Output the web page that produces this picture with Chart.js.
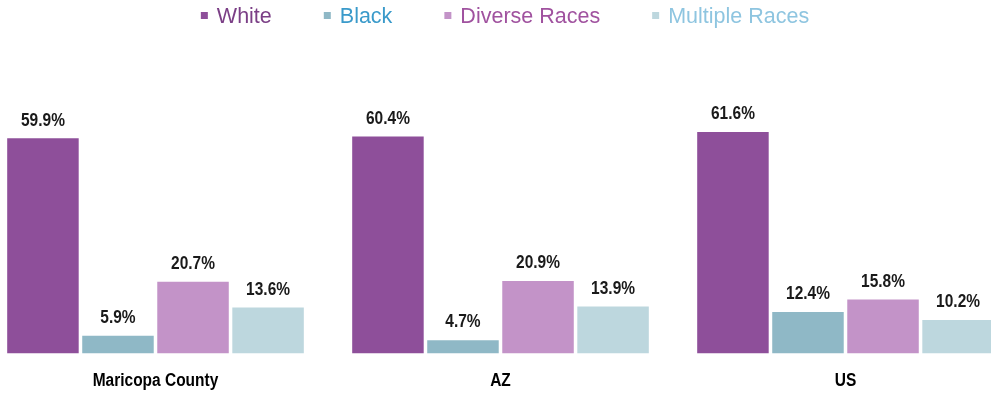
<!DOCTYPE html>
<html>
<head>
<meta charset="utf-8">
<script src="https://cdn.jsdelivr.net/npm/chart.js@4/dist/chart.umd.min.js"></script>
<style>
  html, body { margin: 0; padding: 0; background: #fff; overflow: hidden; }
  body { width: 991px; height: 393px; position: relative; }
  #wrap { position: absolute; left: -17px; top: 0; width: 1035px; height: 393px; }
</style>
</head>
<body>
<div id="wrap"><canvas id="c" width="1035" height="393"></canvas></div>
<script>
// Share of population by race
const categories = ['Maricopa County', 'AZ', 'US'];
const seriesNames = ['White', 'Black', 'Diverse Races', 'Multiple Races'];
const white = [59.9, 60.4, 61.6];
const black = [5.9, 4.7, 12.4];
const diverse = [20.7, 20.9, 15.8];
const multiple = [13.6, 13.9, 10.2];

const barColors = ['#8E4F9A', '#8FB8C6', '#C393C8', '#BDD7DE'];
const legendTextColors = ['#7B3F86', '#3A9ACA', '#A0529F', '#8EC5E0'];

const BOLD = 'bold 18px "Liberation Sans", Arial, sans-serif';
const SQUEEZE = 0.86; // condensed look for bold labels

function condensedText(ctx, text, x, y) {
  ctx.save();
  ctx.translate(x, y);
  ctx.scale(SQUEEZE, 1);
  ctx.fillText(text, 0, 0);
  ctx.restore();
}

// Value labels above each bar
const valueLabels = {
  id: 'valueLabels',
  afterDatasetsDraw(chart) {
    const ctx = chart.ctx;
    ctx.save();
    ctx.font = BOLD;
    ctx.fillStyle = '#1A1A1A';
    ctx.textAlign = 'center';
    ctx.textBaseline = 'alphabetic';
    chart.data.datasets.forEach((ds, i) => {
      const meta = chart.getDatasetMeta(i);
      meta.data.forEach((bar, j) => {
        condensedText(ctx, ds.data[j].toFixed(1) + '%', bar.x, bar.y - 12.7);
      });
    });
    ctx.restore();
  }
};

// Category names under each group, placed at the x-axis tick positions
const categoryLabels = {
  id: 'categoryLabels',
  afterDraw(chart) {
    const ctx = chart.ctx;
    const xs = chart.scales.x;
    ctx.save();
    ctx.font = BOLD;
    ctx.fillStyle = '#000';
    ctx.textAlign = 'center';
    ctx.textBaseline = 'alphabetic';
    categories.forEach((c, i) => {
      condensedText(ctx, c, xs.getPixelForTick(i), xs.top + 32.4);
    });
    ctx.restore();
  }
};

// Legend row with per-series text colours
const topLegend = {
  id: 'topLegend',
  afterDraw(chart) {
    const ctx = chart.ctx;
    ctx.save();
    ctx.font = '21.5px "Liberation Sans", Arial, sans-serif';
    ctx.textBaseline = 'alphabetic';
    ctx.textAlign = 'left';
    const box = 7, boxGap = 9, itemGap = 52;
    const widths = seriesNames.map(n => box + boxGap + ctx.measureText(n).width);
    const total = widths.reduce((a, b) => a + b, 0) + itemGap * (seriesNames.length - 1);
    let x = chart.width / 2 + 4.5 - total / 2;
    seriesNames.forEach((n, i) => {
      ctx.fillStyle = barColors[i];
      ctx.fillRect(x, 12, box, box);
      ctx.fillStyle = legendTextColors[i];
      ctx.fillText(n, x + box + boxGap, 22.7);
      x += widths[i] + itemGap;
    });
    ctx.restore();
  }
};

const data = {
  labels: categories,
  datasets: [white, black, diverse, multiple].map((vals, i) => ({
    label: seriesNames[i],
    data: vals,
    backgroundColor: barColors[i],
    borderWidth: 0,
    categoryPercentage: 0.87,
    barPercentage: 0.953
  }))
};

new Chart(document.getElementById('c'), {
  type: 'bar',
  data,
  options: {
    responsive: false,
    animation: false,
    devicePixelRatio: 1,
    layout: { padding: { top: 101.4, left: 0, right: 0, bottom: 0 } },
    plugins: { legend: { display: false }, tooltip: { enabled: false } },
    scales: {
      x: {
        grid: { display: false, drawTicks: false },
        border: { display: false },
        ticks: { display: false },
        afterFit(scale) { scale.height = 39.7; }
      },
      y: {
        display: false,
        min: 1.1,
        max: 70
      }
    }
  },
  plugins: [valueLabels, categoryLabels, topLegend]
});
</script>
</body>
</html>
